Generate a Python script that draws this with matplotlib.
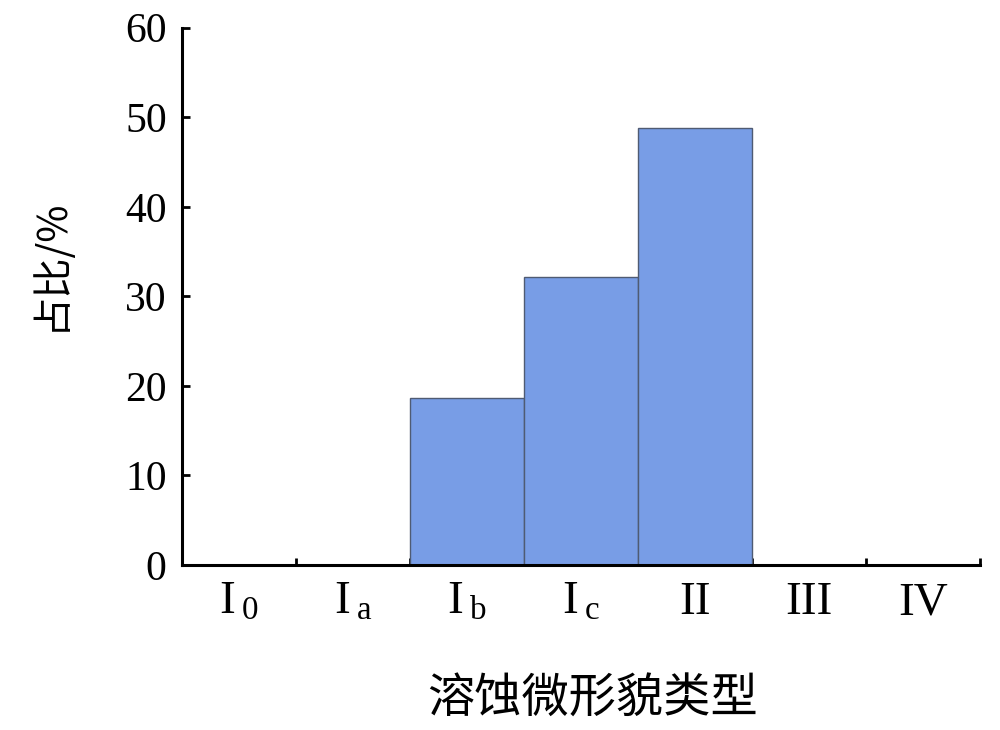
import matplotlib.pyplot as plt
import numpy as np

# data
categories = [r'I$\,_\mathrm{0}$', r'I$\,_\mathrm{a}$', r'I$\,_\mathrm{b}$', r'I$\,_\mathrm{c}$', 'II', 'III', 'IV']
values = [0, 0, 18.6, 32.2, 48.8, 0, 0]
yticks = [0, 10, 20, 30, 40, 50, 60]

plt.rcParams['font.family'] = ['Liberation Serif', 'Noto Sans CJK SC']
plt.rcParams['mathtext.fontset'] = 'custom'
plt.rcParams['mathtext.rm'] = 'Liberation Serif'
plt.rcParams['mathtext.it'] = 'Liberation Serif'

fig = plt.figure(figsize=(10, 7.3), dpi=100)
ax = fig.add_axes([0.182, 0.226, 0.798, 0.736])

x = np.arange(len(categories))
ax.bar(x, values, width=1.0, color='#789de6', edgecolor='#4f5b73', linewidth=1.0, zorder=3)

ax.set_xlim(-0.5, len(categories) - 0.5)
ax.set_ylim(0, 60)
ax.set_yticks(yticks)
ax.set_yticklabels([str(v) for v in yticks], fontsize=30)

ax.set_xticks(x)
ax.set_xticklabels(categories, fontsize=34)
ax.set_xticks(np.arange(len(categories)) + 0.5, minor=True)
ax.tick_params(axis='x', which='major', length=0, pad=12)
ax.tick_params(axis='x', which='minor', direction='in', length=5, width=2)
ax.tick_params(axis='y', direction='in', length=6, width=2, pad=11)

for s in ['top', 'right']:
    ax.spines[s].set_visible(False)
for s in ['left', 'bottom']:
    ax.spines[s].set_linewidth(2.2)
    ax.spines[s].set_zorder(4)

ax.set_ylabel('占比/%', fontsize=29, family=['Noto Sans CJK SC', 'Liberation Serif'])
ax.yaxis.set_label_coords(-0.14, 0.56)
ax.set_xlabel('溶蚀微形貌类型', fontsize=34, family=['Noto Sans CJK SC'])
ax.xaxis.set_label_coords(0.515, -0.205)

fig.savefig('out.png', dpi=100)
